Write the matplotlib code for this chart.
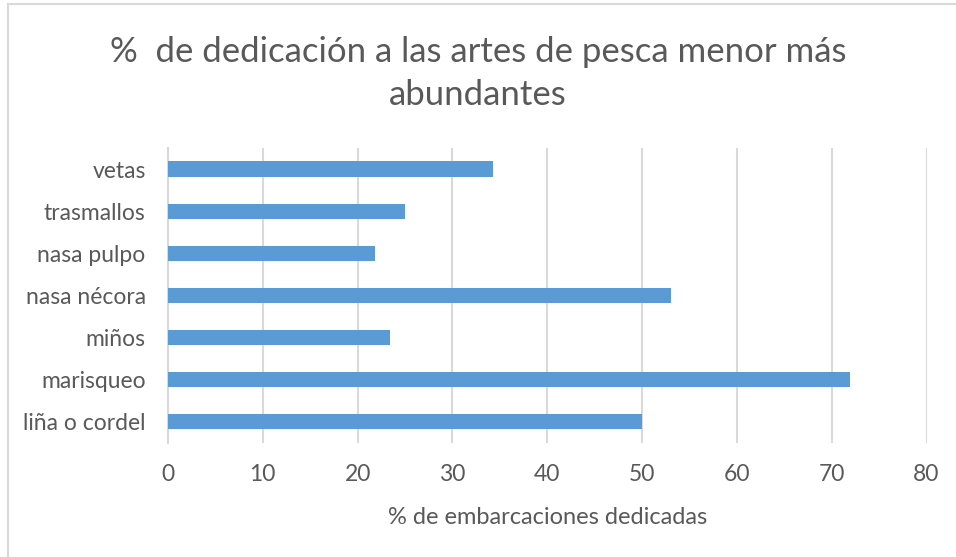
import matplotlib.pyplot as plt
from matplotlib.lines import Line2D

# artes de pesca y % de embarcaciones dedicadas
artes = ['liña o cordel', 'marisqueo', 'miños', 'nasa nécora', 'nasa pulpo', 'trasmallos', 'vetas']
porcentajes = [50.0, 71.9, 23.4, 53.1, 21.8, 25.0, 34.3]
x_ticks = [0, 10, 20, 30, 40, 50, 60, 70, 80]

titulo = '%  de dedicación a las artes de pesca menor más\nabundantes'
x_label = '% de embarcaciones dedicadas'

plt.rcParams['font.family'] = ['Lato', 'DejaVu Sans']
texto = '#595959'
rejilla = '#d9d9d9'

fig = plt.figure(figsize=(9.56, 5.57), dpi=100)
ax = fig.add_axes([0.1757, 0.2047, 0.9692 - 0.1757, 0.7343 - 0.2047])

ax.barh(artes, porcentajes, height=0.36, color='#5b9bd5', zorder=3)
ax.set_xlim(0, 80)
ax.set_ylim(-0.5, len(artes) - 0.5)
ax.set_xticks(x_ticks)

ax.grid(axis='x', color=rejilla, linewidth=1.5, zorder=0)
for side in ['top', 'right', 'bottom']:
    ax.spines[side].set_visible(False)
ax.spines['left'].set_color(rejilla)
ax.spines['left'].set_linewidth(1.5)
ax.tick_params(axis='both', length=0, labelsize=16.5, colors=texto)
ax.tick_params(axis='x', pad=15)
ax.tick_params(axis='y', pad=16)

ax.set_xlabel(x_label, fontsize=17, color=texto, labelpad=16)
fig.text(0.5, 0.868, titulo, ha='center', va='center', fontsize=25,
         color=texto, linespacing=1.4)

# borde del área del gráfico
fig.add_artist(Line2D([7.5 / 956, 7.5 / 956], [0, 1 - 3.5 / 557], color=rejilla,
                      linewidth=1.5, transform=fig.transFigure))
fig.add_artist(Line2D([7.5 / 956, 1], [1 - 3.5 / 557, 1 - 3.5 / 557], color=rejilla,
                      linewidth=1.5, transform=fig.transFigure))

fig.savefig('out.png', dpi=100)
